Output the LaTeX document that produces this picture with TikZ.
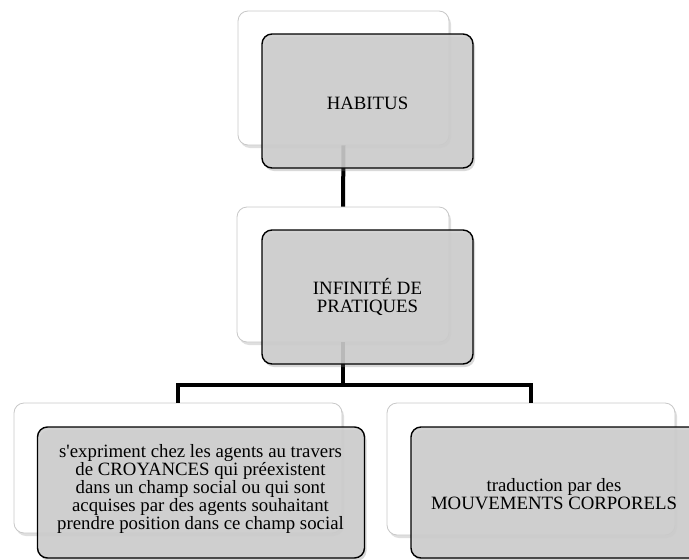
\documentclass[tikz,border=0pt]{standalone}
\usepackage{fontspec}
\setmainfont{Liberation Serif}[Ligatures=TeXOff]
\usetikzlibrary{shadows}
\definecolor{frontfill}{RGB}{206,206,206}
\definecolor{backline}{RGB}{200,200,200}
\tikzset{
  backbox/.style={draw=backline, line width=0.8pt, fill=white, rounded corners=10pt,
    inner sep=0pt, drop shadow={shadow xshift=2pt, shadow yshift=-3pt, opacity=0.25, fill=gray}},
  frontbox/.style={draw=black, line width=1.4pt, fill=frontfill, fill opacity=0.88, rounded corners=10pt,
    inner sep=0pt, drop shadow={shadow xshift=2pt, shadow yshift=-3pt, opacity=0.3, fill=gray}},
  conn/.style={line width=4pt, draw=black},
  lbl/.style={align=center, font=\fontsize{18.8}{18.2}\selectfont, inner sep=0pt},
}
\begin{document}
\begin{tikzpicture}[x=1pt, y=-1pt]
\useasboundingbox (0,0) rectangle (689,560);
\clip (0,0) rectangle (689,560);
% back boxes
\node[backbox, minimum width=211pt, minimum height=134pt] (b1) at (343.5,78) {};
\node[backbox, minimum width=212pt, minimum height=135pt] (b2) at (343,274.5) {};
\node[backbox, minimum width=328pt, minimum height=130pt] (b3) at (178,468) {};
\node[backbox, minimum width=288pt, minimum height=132pt] (b4) at (531,469) {};
% connectors
\coordinate (j) at (343,385);
\draw[conn] (b1.south) -- (b2.north);
\draw[conn] (b2.south) -- (j);
\draw[conn, line join=miter] (b3.north) |- (j) -| (b4.north);
% front boxes
\node[frontbox, minimum width=211pt, minimum height=134pt] (f1) at (367.5,101) {};
\node[frontbox, minimum width=211pt, minimum height=134pt] (f2) at (367.5,297) {};
\node[frontbox, minimum width=327pt, minimum height=131pt] (f3) at (201,492.5) {};
\node[frontbox, minimum width=288pt, minimum height=131pt] (f4) at (555,492.5) {};
% texts
\node[lbl] (t1) at (367.5,103) {HABITUS};
\node[lbl] (t2) at (f2.center) {INFINITÉ DE\\PRATIQUES};
\node[lbl] (t3) at (200.5,489) {s'expriment chez les agents au travers\\de CROYANCES qui préexistent\\dans un champ social ou qui sont\\acquises par des agents souhaitant\\prendre position dans ce champ social};
\node[lbl] (t4) at (554,494) {traduction par des\\MOUVEMENTS CORPORELS};
\end{tikzpicture}
\end{document}
